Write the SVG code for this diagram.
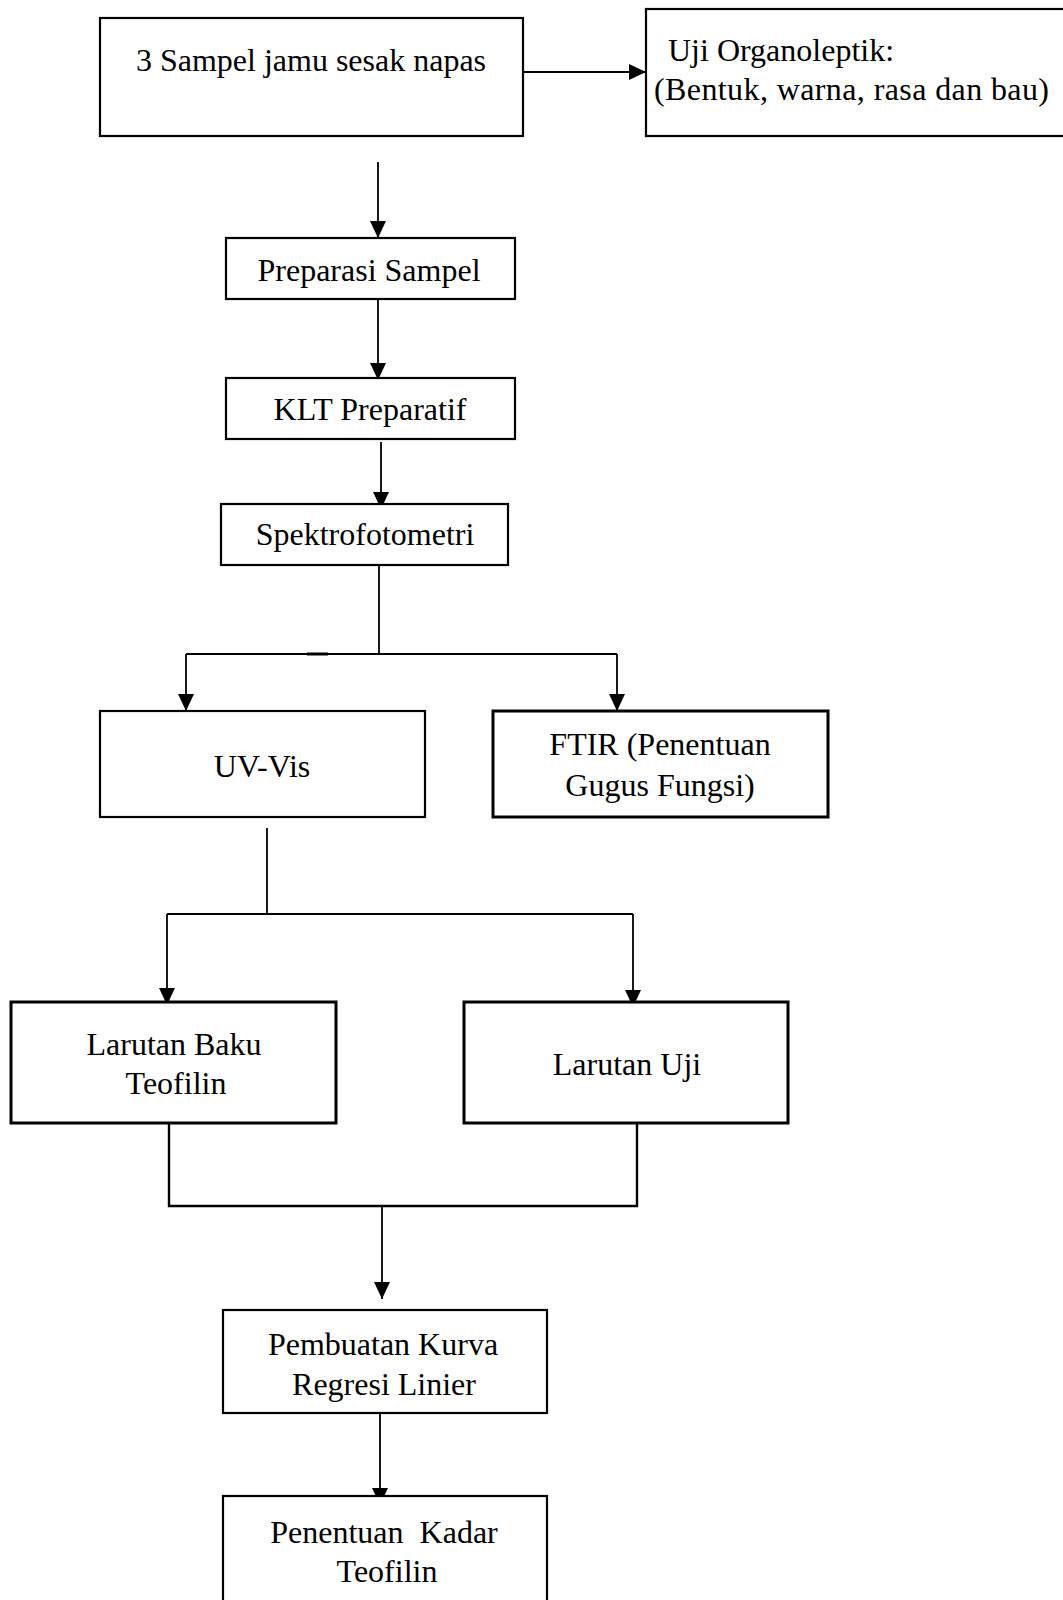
<svg xmlns="http://www.w3.org/2000/svg" width="1063" height="1600" viewBox="0 0 1063 1600">
<style>
.box{fill:#fff;stroke:#000;stroke-width:2.2}
.thick{stroke-width:3}
.t{font-family:"Liberation Serif","Times New Roman",serif;font-size:32px;fill:#000;text-anchor:middle}
.l{text-anchor:start}
.c{fill:none;stroke:#000;stroke-width:1.8}
.a{marker-end:url(#arr)}
</style>
<defs>
<marker id="arr" markerUnits="userSpaceOnUse" markerWidth="20" markerHeight="18" refX="17" refY="8" orient="auto">
<path d="M0,0 L17,8 L0,16 z" fill="#000"/>
</marker>
</defs>
<rect width="1063" height="1600" fill="#fff"/>
<g id="connectors">
<line class="c a" x1="523" y1="72" x2="646" y2="72"/>
<line class="c a" x1="378" y1="162" x2="378" y2="238"/>
<line class="c a" x1="378" y1="299" x2="378" y2="380"/>
<line class="c a" x1="381" y1="442" x2="381" y2="509"/>
<line class="c" x1="379" y1="565" x2="379" y2="654"/>
<line class="c" x1="186" y1="654" x2="617" y2="654"/>
<line class="c" x1="307" y1="654" x2="328" y2="654" style="stroke-width:3"/>
<polyline class="c a" points="186,654 186,711"/>
<polyline class="c a" points="617,654 617,711"/>
<line class="c" x1="267" y1="828" x2="267" y2="914"/>
<line class="c" x1="167" y1="914" x2="633" y2="914"/>
<polyline class="c a" points="167,914 167,1005"/>
<polyline class="c a" points="633,914 633,1007"/>
<polyline class="c" points="169,1124 169,1206 637,1206 637,1123" style="stroke-width:2.4"/>
<line class="c a" x1="382" y1="1206" x2="382" y2="1299"/>
<line class="c a" x1="380" y1="1413" x2="380" y2="1505"/>
</g>
<g id="n1">
<rect class="box" x="100" y="18" width="423" height="118"/>
<text class="t" x="311" y="71">3 Sampel jamu sesak napas</text>
</g>
<g id="n2">
<rect class="box" x="646" y="9" width="430" height="127"/>
<text class="t l" x="668" y="61">Uji Organoleptik:</text>
<text class="t l" x="654" y="100" textLength="395" lengthAdjust="spacing">(Bentuk, warna, rasa dan bau)</text>
</g>
<g id="n3">
<rect class="box" x="226" y="238" width="289" height="61"/>
<text class="t" x="369" y="281">Preparasi Sampel</text>
</g>
<g id="n4">
<rect class="box" x="226" y="378" width="289" height="61"/>
<text class="t" x="370" y="420">KLT Preparatif</text>
</g>
<g id="n5">
<rect class="box" x="221" y="504" width="287" height="61"/>
<text class="t" x="365" y="545">Spektrofotometri</text>
</g>
<g id="n6">
<rect class="box" x="100" y="711" width="325" height="106"/>
<text class="t" x="262" y="777">UV-Vis</text>
</g>
<g id="n7">
<rect class="box thick" x="493" y="711" width="335" height="106"/>
<text class="t" x="660" y="755">FTIR (Penentuan</text>
<text class="t" x="660" y="796">Gugus Fungsi)</text>
</g>
<g id="n8">
<rect class="box thick" x="11" y="1002" width="325" height="121"/>
<text class="t" x="174" y="1055">Larutan Baku</text>
<text class="t" x="176" y="1094">Teofilin</text>
</g>
<g id="n9">
<rect class="box thick" x="464" y="1002" width="324" height="121"/>
<text class="t" x="627" y="1075">Larutan Uji</text>
</g>
<g id="n10">
<rect class="box" x="223" y="1310" width="324" height="103"/>
<text class="t" x="383" y="1355">Pembuatan Kurva</text>
<text class="t" x="384" y="1395">Regresi Linier</text>
</g>
<g id="n11">
<rect class="box" x="223" y="1496" width="324" height="110"/>
<text class="t" x="384" y="1543" xml:space="preserve">Penentuan  Kadar</text>
<text class="t" x="387" y="1582">Teofilin</text>
</g>
</svg>
